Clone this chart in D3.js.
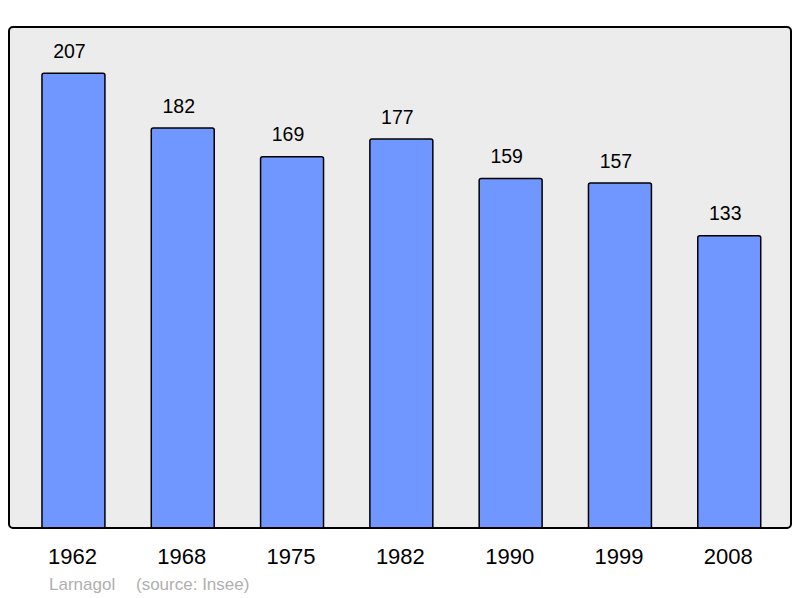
<!DOCTYPE html>
<html>
<head>
<meta charset="utf-8">
<script src="https://cdn.jsdelivr.net/npm/d3@7"></script>
<style>
  body { margin: 0; background: #fff; }
  svg { display: block; font-family: "Liberation Sans", Arial, sans-serif; }
</style>
</head>
<body>
<div id="chart"></div>
<script>
const years = ["1962", "1968", "1975", "1982", "1990", "1999", "2008"];
const population = [207, 182, 169, 177, 159, 157, 133];
const credit = ["Larnagol", "(source: Insee)"];

const width = 800, height = 598;
const panel = { left: 9, top: 27, right: 791, bottom: 528 };

const svg = d3.select("#chart").append("svg")
    .attr("width", width)
    .attr("height", height)
    .attr("viewBox", [0, 0, width, height]);

const x = d3.scaleBand()
    .domain(years)
    .range([18.8, 783.9])
    .paddingInner(0.424)
    .paddingOuter(0.212);

const y = d3.scaleLinear()
    .domain([0, 228])
    .range([panel.bottom, panel.top]);

svg.append("clipPath")
    .attr("id", "panel-clip")
    .append("rect")
    .attr("x", panel.left)
    .attr("y", panel.top)
    .attr("width", panel.right - panel.left)
    .attr("height", panel.bottom - panel.top);

// background panel
svg.append("rect")
    .attr("x", panel.left)
    .attr("y", panel.top)
    .attr("width", panel.right - panel.left)
    .attr("height", panel.bottom - panel.top)
    .attr("rx", 4)
    .attr("fill", "#ececec")
    .attr("stroke", "#000")
    .attr("stroke-width", 2);

const data = years.map((yr, i) => ({ year: yr, value: population[i] }));

svg.append("g")
    .attr("clip-path", "url(#panel-clip)")
    .selectAll("rect")
    .data(data)
    .join("rect")
    .attr("x", d => x(d.year))
    .attr("y", d => y(d.value))
    .attr("width", x.bandwidth())
    .attr("height", d => y(0) - y(d.value) + 6)
    .attr("rx", 2)
    .attr("fill", "#7096ff")
    .attr("stroke", "#000")
    .attr("stroke-width", 1.5);

// redraw bottom border above bars
svg.append("line")
    .attr("x1", panel.left + 3)
    .attr("x2", panel.right - 3)
    .attr("y1", panel.bottom)
    .attr("y2", panel.bottom)
    .attr("stroke", "#000")
    .attr("stroke-width", 2);

svg.append("g")
    .attr("text-anchor", "middle")
    .style("font-size", "19.5px")
    .selectAll("text")
    .data(data)
    .join("text")
    .attr("x", d => x(d.year) + x.bandwidth() / 2 - 4)
    .attr("y", d => y(d.value) - 15.5)
    .text(d => d.value);

const xAxis = svg.append("g")
    .attr("transform", `translate(0,${panel.bottom})`)
    .call(d3.axisBottom(x).tickSize(0).tickPadding(0));
xAxis.select(".domain").remove();
xAxis.selectAll("text")
    .attr("dy", null)
    .attr("x", -1)
    .attr("y", 36)
    .attr("fill", "#000")
    .style("font-size", "22px")
    .style("font-family", "\"Liberation Sans\", Arial, sans-serif");

svg.append("text")
    .attr("x", 49)
    .attr("y", 590)
    .attr("fill", "#b0b0b0")
    .style("font-size", "17px")
    .text(credit[0]);

svg.append("text")
    .attr("x", 136)
    .attr("y", 590)
    .attr("fill", "#b0b0b0")
    .style("font-size", "17px")
    .text(credit[1]);
</script>
</body>
</html>
